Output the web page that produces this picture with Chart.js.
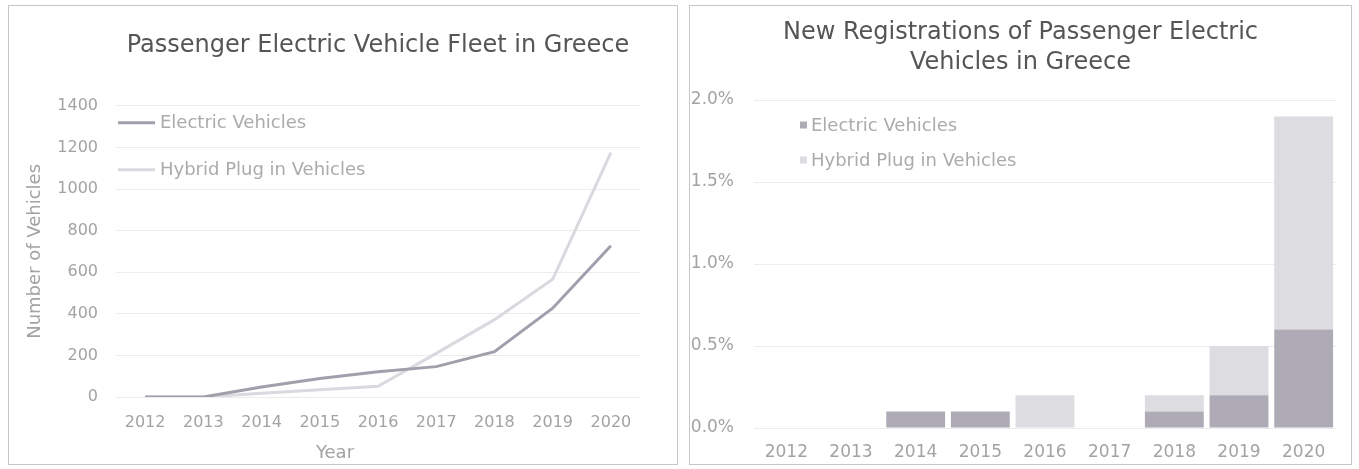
<!DOCTYPE html>
<html>
<head>
<meta charset="utf-8">
<script src="https://cdn.jsdelivr.net/npm/chart.js@4.4.1/dist/chart.umd.min.js"></script>
<style>
  html, body { margin: 0; padding: 0; background: #fff; }
  body { width: 1359px; height: 469px; position: relative; overflow: hidden; }
  .panel { position: absolute; box-sizing: border-box; border: 1px solid #c6c6c6; background: #fff; }
  .panel .inner { position: relative; width: 100%; height: 100%; }
  #leftPanel { left: 8px; top: 5px; width: 670px; height: 460px; }
  #rightPanel { left: 689px; top: 5px; width: 663px; height: 460px; }
</style>
</head>
<body>
<div class="panel" id="leftPanel"><div class="inner"><canvas id="fleetChart"></canvas></div></div>
<div class="panel" id="rightPanel"><div class="inner"><canvas id="regChart"></canvas></div></div>

<script>
// === data ===
const years = ['2012', '2013', '2014', '2015', '2016', '2017', '2018', '2019', '2020'];

// fleet (number of vehicles)
const fleetElectric = [0, 0, 48, 89, 121, 146, 218, 427, 727];
const fleetHybrid = [0, 0, 18, 35, 52, 210, 372, 566, 1175];

// new registrations (% of passenger cars)
const regElectric = [0, 0, 0.1, 0.1, 0, 0, 0.1, 0.2, 0.6];
const regHybrid = [0, 0, 0, 0, 0.2, 0, 0.1, 0.3, 1.3];

const seriesNames = ['Electric Vehicles', 'Hybrid Plug in Vehicles'];

const FONT = '"DejaVu Sans", "Liberation Sans", Arial, sans-serif';
const TITLE_COLOR = '#555555';
const TICK_COLOR = '#a3a3a3';
const LEGEND_COLOR = '#ababab';
const GRID_COLOR = '#ececec';

// legend drawn inside the plot area, like the original
const innerLegend = {
  id: 'innerLegend',
  afterDraw(chart, args, opts) {
    const { ctx, chartArea } = chart;
    ctx.save();
    ctx.font = opts.size + 'px ' + FONT;
    ctx.textBaseline = 'middle';
    ctx.textAlign = 'left';
    chart.data.datasets.forEach((ds, i) => {
      const x = chartArea.left + opts.x;
      const y = chartArea.top + opts.rows[i];
      if (opts.kind === 'line') {
        ctx.strokeStyle = ds.borderColor;
        ctx.lineWidth = 3;
        ctx.beginPath();
        ctx.moveTo(x, y);
        ctx.lineTo(x + 37, y);
        ctx.stroke();
      } else {
        ctx.fillStyle = ds.backgroundColor;
        ctx.fillRect(x, y - 3.5, 7, 7);
      }
      ctx.fillStyle = LEGEND_COLOR;
      ctx.fillText(ds.label, x + opts.gap, y + 1);
    });
    if (opts.note) {
      ctx.textAlign = 'center';
      ctx.font = opts.note.size + 'px ' + FONT;
      ctx.fillStyle = TICK_COLOR;
      ctx.fillText(opts.note.text, chart.width / 2 - 8, chart.height - 11);
    }
    ctx.restore();
  }
};

// === Fleet line chart ===
new Chart(document.getElementById('fleetChart'), {
  type: 'line',
  data: {
    labels: years,
    datasets: [
      {
        label: seriesNames[0],
        data: fleetElectric,
        borderColor: '#a29fac',
        borderWidth: 3,
        pointRadius: 0,
        tension: 0
      },
      {
        label: seriesNames[1],
        data: fleetHybrid,
        borderColor: '#d9d9df',
        borderWidth: 3,
        pointRadius: 0,
        tension: 0
      }
    ]
  },
  options: {
    responsive: true,
    maintainAspectRatio: false,
    animation: false,
    layout: { padding: { left: 0, right: 37, top: 0, bottom: 0 } },
    plugins: {
      legend: { display: false },
      tooltip: { enabled: false },
      title: {
        display: true,
        text: 'Passenger Electric Vehicle Fleet in Greece',
        color: TITLE_COLOR,
        fullSize: false,
        font: { family: FONT, size: 24, weight: 'normal', lineHeight: 1.2 },
        padding: { top: 25, bottom: 46 }
      },
      innerLegend: { kind: 'line', size: 18, x: 2, gap: 42, rows: [17, 64], note: { text: 'Year', size: 18 } }
    },
    scales: {
      x: {
        offset: true,
        grid: { display: false, drawTicks: false },
        border: { display: false },
        ticks: { color: TICK_COLOR, font: { family: FONT, size: 16 }, padding: 16, maxRotation: 0 },
        afterFit: (s) => { s.height = 67; }
      },
      y: {
        min: 0,
        max: 1400,
        ticks: {
          stepSize: 200,
          color: TICK_COLOR,
          font: { family: FONT, size: 16 },
          padding: 18,
          callback: (v) => String(v)
        },
        grid: { color: GRID_COLOR, drawTicks: false },
        border: { display: false },
        title: {
          display: true,
          text: 'Number of Vehicles',
          color: TICK_COLOR,
          font: { family: FONT, size: 18 },
          padding: { top: 16, bottom: 0 }
        },
        afterFit: (s) => { s.width = 107; }
      }
    }
  },
  plugins: [innerLegend]
});

// === Registrations stacked bar chart ===
new Chart(document.getElementById('regChart'), {
  type: 'bar',
  data: {
    labels: years,
    datasets: [
      {
        label: seriesNames[0],
        data: regElectric,
        backgroundColor: '#aeabb7',
        barPercentage: 0.91,
        categoryPercentage: 1
      },
      {
        label: seriesNames[1],
        data: regHybrid,
        backgroundColor: '#dcdce1',
        barPercentage: 0.91,
        categoryPercentage: 1
      }
    ]
  },
  options: {
    responsive: true,
    maintainAspectRatio: false,
    animation: false,
    layout: { padding: 0 },
    plugins: {
      legend: { display: false },
      tooltip: { enabled: false },
      title: {
        display: true,
        text: ['New Registrations of Passenger Electric', 'Vehicles in Greece'],
        color: TITLE_COLOR,
        font: { family: FONT, size: 24, weight: 'normal', lineHeight: 1.25 },
        padding: { top: 12, bottom: 22 }
      },
      innerLegend: { kind: 'box', size: 18, x: 46, gap: 11, rows: [25, 60] }
    },
    scales: {
      x: {
        stacked: true,
        grid: { display: false, drawTicks: false },
        border: { display: false },
        ticks: { color: TICK_COLOR, font: { family: FONT, size: 17 }, padding: 14, maxRotation: 0 },
        afterFit: (s) => { s.height = 36; }
      },
      y: {
        stacked: true,
        min: 0,
        max: 2,
        ticks: {
          stepSize: 0.5,
          color: TICK_COLOR,
          font: { family: FONT, size: 17 },
          padding: 20,
          callback: (v) => v.toFixed(1) + '%'
        },
        grid: { color: GRID_COLOR, drawTicks: false },
        border: { display: false },
        afterFit: (s) => { s.width = 64; }
      },
      // empty right axis, only keeps the plot clear of the right border
      yRight: {
        position: 'right',
        grid: { display: false, drawTicks: false },
        border: { display: false },
        ticks: { display: false },
        afterFit: (s) => { s.width = 15; }
      }
    }
  },
  plugins: [innerLegend]
});
</script>
</body>
</html>
